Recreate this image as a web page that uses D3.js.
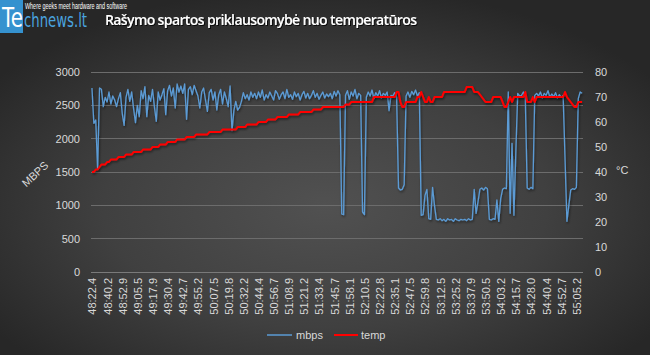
<!DOCTYPE html>
<html><head><meta charset="utf-8">
<script src="https://cdn.jsdelivr.net/npm/d3@7/dist/d3.min.js"></script>
<style>html,body{margin:0;padding:0;background:#2e2e2e;overflow:hidden}</style>
</head><body><svg id="c" width="650" height="355"></svg>
<script>
// ---- data ----
const tickLabels = ["48:22.4","48:40.2","48:52.9","49:05.5","49:17.9","49:30.4","49:42.7","49:55.2","50:07.5","50:19.8","50:32.2","50:44.4","50:56.7","51:08.9","51:21.2","51:33.4","51:45.7","51:58.1","52:10.5","52:22.8","52:35.1","52:47.5","52:59.8","53:12.5","53:25.2","53:37.9","53:50.5","54:03.2","54:15.7","54:28.0","54:40.4","54:52.7","55:05.2"];
const labelEvery = 8;
const mbps = [
2760,2230,2280,1540,2760,2740,2480,2620,
2550,2700,2520,2640,2580,2480,2600,2690,
2380,2200,2620,2740,2560,2700,2450,2240,
2500,2330,2720,2600,2780,2330,2650,2560,
2740,2480,2260,2700,2580,2660,2750,
2360,2720,2800,2640,2760,2460,2820,2700,
2790,2680,2820,2290,2740,2780,2660,2800,
2720,2640,2460,2700,2760,2580,2410,2690,
2740,2580,2700,2430,2660,2740,2520,2700,
2600,2480,2790,2120,2420,2560,2430,2470,
2560,2690,2600,2660,2580,2700,2620,2680,
2600,2700,2620,2730,2580,2660,2610,2700,
2640,2580,2720,2680,2590,2660,2700,
2600,2740,2620,2660,2590,2700,2630,2680,
2580,2660,2710,2610,2680,2600,2650,2720,
2620,2680,2590,2650,2700,2610,2670,2630,
2680,2600,2710,2640,2720,2660,870,860,
2650,2720,2590,2700,2640,2740,2600,2680,
2650,900,860,2620,2700,2640,2730,2600,
2690,2640,2720,2610,2680,2650,2700,2420,
2650,2640,2690,2620,1260,1230,1240,
1310,2640,2700,2620,2710,2660,2730,2640,
2690,850,860,1150,1240,800,790,1270,
1000,790,780,800,770,790,760,800,
780,790,760,800,780,770,790,780,
790,770,800,780,790,1240,880,1050,
1240,1260,1230,1270,1250,790,780,800,
790,1080,760,1100,1240,1260,1250,2700,
880,1930,850,1800,2680,2640,2650,
2700,2620,1260,1240,1270,1250,2650,2680,
2640,2700,2610,2680,2650,2720,2620,2670,
2630,2690,2610,2660,2620,2650,1700,760,
1000,1230,1250,1240,1270,2600,2700,2680
];
const temp = [
40,40,41,41,42,43,43,43,44,44,45,45,45,45,46,46,46,46,47,47,47,47,
48,48,48,48,48,49,49,49,49,49,50,50,50,50,51,51,51,51,52,52,52,52,52,
53,53,53,53,53,54,54,54,54,54,55,55,55,55,55,55,55,56,56,56,56,56,56,56,
57,57,57,57,57,57,57,57,58,58,58,58,58,59,59,59,59,59,59,60,60,60,60,60,
61,61,61,61,61,62,62,62,62,62,62,63,63,63,63,63,63,64,64,64,64,64,64,64,
65,65,65,65,65,66,66,66,66,66,66,66,66,66,66,66,66,67,67,67,
68,68,68,68,68,68,68,68,68,68,68,68,70,70,70,70,70,70,70,70,70,70,70,70,
72,72,68,66,66,68,68,68,68,68,68,70,70,72,70,68,68,70,68,68,
70,70,70,70,70,72,72,72,72,72,72,72,72,72,72,72,72,74,74,74,74,72,72,72,
71,70,69,68,68,68,68,70,70,70,70,70,68,66,66,68,70,68,70,70,70,70,70,70,
72,68,68,68,70,68,70,70,70,70,70,70,70,70,70,70,70,70,70,70,70,
72,70,69,68,67,66,66,68,68,68
];
const leftTicks = [0,500,1000,1500,2000,2500,3000];
const rightTicks = [0,10,20,30,40,50,60,70,80];
const seriesNames = ["mbps","temp"];

// ---- drawing ----
const W = 650, H = 355;
const svg = d3.select('#c');
const defs = svg.append('defs');
const rg = defs.append('radialGradient').attr('id','bg').attr('cx','50%').attr('cy','58%').attr('r','62%');
rg.append('stop').attr('offset','0%').attr('stop-color','#515151');
rg.append('stop').attr('offset','55%').attr('stop-color','#404040');
rg.append('stop').attr('offset','100%').attr('stop-color','#272727');
const f = defs.append('filter').attr('id','sh').attr('x','-10%').attr('y','-10%').attr('width','120%').attr('height','130%');
f.append('feDropShadow').attr('dx',0.8).attr('dy',1.5).attr('stdDeviation',1).attr('flood-color','#000').attr('flood-opacity',0.55);
const ft = defs.append('filter').attr('id','tsh').attr('x','-5%').attr('y','-20%').attr('width','110%').attr('height','160%');
ft.append('feDropShadow').attr('dx',1).attr('dy',1).attr('stdDeviation',0.6).attr('flood-color','#000').attr('flood-opacity',0.8);

svg.append('rect').attr('width',W).attr('height',H).attr('fill','url(#bg)');

const N = mbps.length;
const x = d3.scaleLinear().domain([-0.5, N - 0.5]).range([91, 583]);
const yL = d3.scaleLinear().domain([0, 3000]).range([272, 72]);
const yR = d3.scaleLinear().domain([0, 80]).range([272, 72]);

const FONT = "'Liberation Sans', Arial, sans-serif";
const TXT = '#d9d9d9';

// gridlines
svg.append('g').selectAll('line').data(leftTicks.filter(d => d > 0)).join('line')
  .attr('x1', 91).attr('x2', 583).attr('y1', d => yL(d)).attr('y2', d => yL(d))
  .attr('stroke', '#6c6c6c').attr('stroke-width', 1).attr('shape-rendering','crispEdges');

// left axis
const axL = svg.append('g').attr('transform', 'translate(91,0)')
  .call(d3.axisLeft(yL).tickValues(leftTicks).tickFormat(d3.format('d')).tickSize(0).tickPadding(11));
axL.select('.domain').remove();
axL.selectAll('text').attr('fill', TXT).style('font-family', FONT).style('font-size', '11px');

// right axis
const axR = svg.append('g').attr('transform', 'translate(583,0)')
  .call(d3.axisRight(yR).tickValues(rightTicks).tickFormat(d3.format('d')).tickSize(0).tickPadding(12));
axR.select('.domain').remove();
axR.selectAll('text').attr('fill', TXT).style('font-family', FONT).style('font-size', '11px');

// x axis
const tickIdx = tickLabels.map((_, k) => k * labelEvery);
const axX = svg.append('g').attr('transform', 'translate(0,272)')
  .call(d3.axisBottom(x).tickValues(tickIdx).tickSize(0).tickFormat((d, k) => tickLabels[k]));
axX.select('.domain').attr('stroke', '#7a7a7a').attr('d', 'M91,0.5H583');
axX.selectAll('text').attr('fill', TXT).style('font-family', FONT).style('font-size', '11px')
  .attr('text-anchor', 'end').attr('transform', 'translate(0,6) rotate(-90)')
  .attr('x', 0).attr('y', 0).attr('dy', '0.36em');

// lines
const lineL = d3.line().x((d, i) => x(i)).y(d => yL(d));
const lineR = d3.line().x((d, i) => x(i)).y(d => yR(d));
svg.append('path').datum(mbps).attr('d', lineL).attr('fill', 'none')
  .attr('stroke', '#5b9bd5').attr('stroke-width', 1.3).attr('stroke-linejoin','round').attr('filter', 'url(#sh)');
svg.append('path').datum(temp).attr('d', lineR).attr('fill', 'none')
  .attr('stroke', '#ff0000').attr('stroke-width', 2).attr('stroke-linejoin','round').attr('filter', 'url(#sh)');

// axis titles
svg.append('text').text('MBPS').attr('transform', 'translate(35,174) rotate(-43)')
  .attr('text-anchor', 'middle').attr('dy', '0.35em').attr('fill', TXT)
  .style('font-family', FONT).style('font-size', '11px');
svg.append('text').text('°C').attr('x', 616).attr('y', 174)
  .attr('fill', TXT).style('font-family', FONT).style('font-size', '11px');

// legend
const lg = svg.append('g');
const legendItems = [
  {name: seriesNames[0], color: '#5b9bd5', x1: 267, x2: 292, tx: 296},
  {name: seriesNames[1], color: '#ff0000', x1: 334, x2: 358, tx: 361}
];
legendItems.forEach(it => {
  lg.append('line').attr('x1', it.x1).attr('x2', it.x2).attr('y1', 335).attr('y2', 335)
    .attr('stroke', it.color).attr('stroke-width', it.color === '#ff0000' ? 2 : 1.5);
  lg.append('text').text(it.name).attr('x', it.tx).attr('y', 339).attr('fill', TXT)
    .style('font-family', FONT).style('font-size', '11px');
});

// logo
svg.append('rect').attr('x', 0).attr('y', 0).attr('width', 23).attr('height', 33).attr('fill', '#3592cf');
svg.append('text').text('Te').attr('x', 2).attr('y', 27).attr('fill', '#ffffff')
  .attr('textLength', 21).attr('lengthAdjust', 'spacingAndGlyphs')
  .style('font-family', "'DejaVu Sans', sans-serif").style('font-size', '27px');
svg.append('text').text('chnews.lt').attr('x', 24).attr('y', 27).attr('fill', '#4aa3df')
  .attr('textLength', 63).attr('lengthAdjust', 'spacingAndGlyphs')
  .style('font-family', "'DejaVu Sans', sans-serif").style('font-size', '19px');
svg.append('text').text('Where geeks meet hardware and software').attr('x', 25).attr('y', 9).attr('fill', '#ffffff')
  .attr('textLength', 102).attr('lengthAdjust', 'spacingAndGlyphs')
  .style('font-family', FONT).style('font-size', '8.5px');

// title
svg.append('text').text('Rašymo spartos priklausomybė nuo temperatūros')
  .attr('x', 105).attr('y', 25).attr('fill', '#ffffff').attr('filter', 'url(#tsh)')
  .attr('textLength', 312).attr('lengthAdjust', 'spacing')
  .style('font-family', "'Open Sans', sans-serif").style('font-weight', '600').style('font-size', '14px');
</script></body></html>
